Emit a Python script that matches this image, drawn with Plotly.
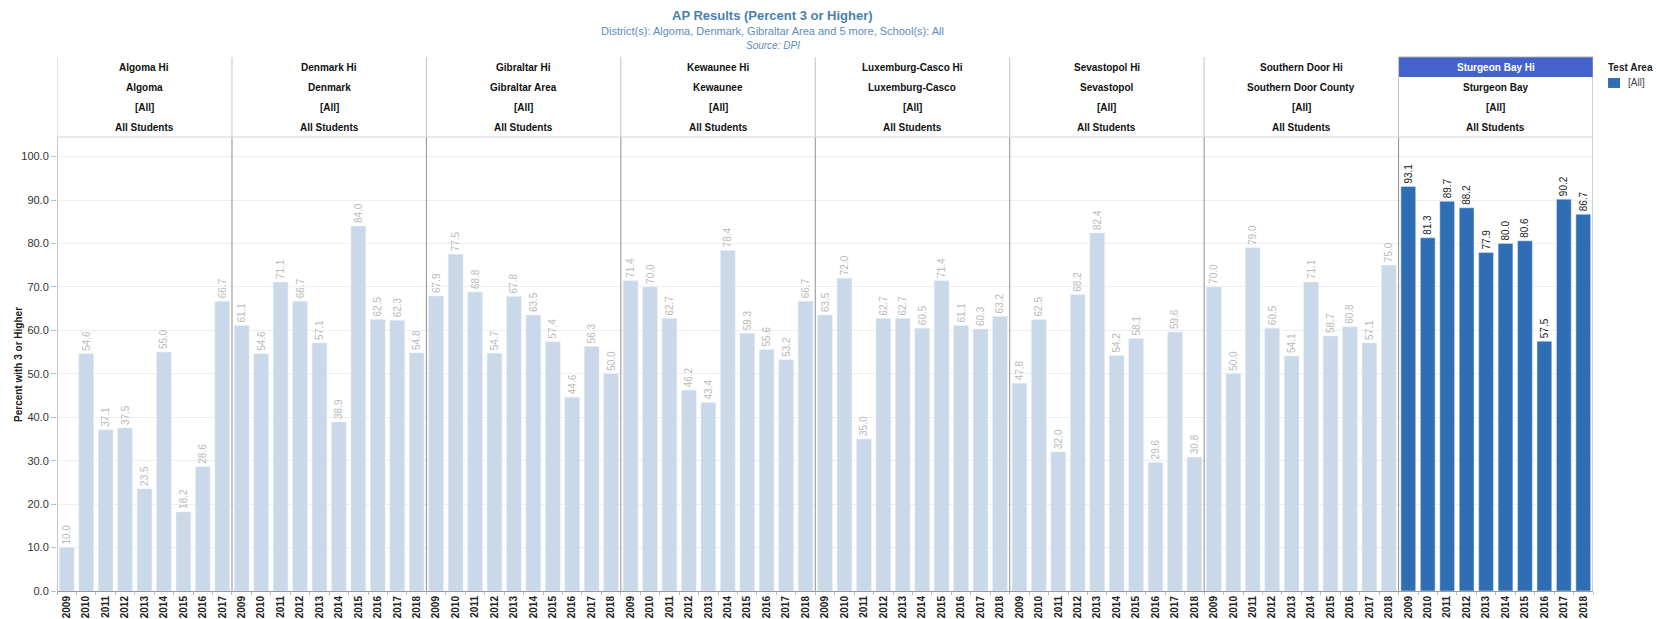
import plotly.graph_objects as go

schools = ["Algoma Hi", "Denmark Hi", "Gibraltar Hi", "Kewaunee Hi", "Luxemburg-Casco Hi",
           "Sevastopol Hi", "Southern Door Hi", "Sturgeon Bay Hi"]
districts = ["Algoma", "Denmark", "Gibraltar Area", "Kewaunee", "Luxemburg-Casco",
             "Sevastopol", "Southern Door County", "Sturgeon Bay"]
test_area = "[All]"
group = "All Students"

years_algoma = ["2009", "2010", "2011", "2012", "2013", "2014", "2015", "2016", "2017"]
years_full = ["2009", "2010", "2011", "2012", "2013", "2014", "2015", "2016", "2017", "2018"]

algoma = [10.0, 54.6, 37.1, 37.5, 23.5, 55.0, 18.2, 28.6, 66.7]
denmark = [61.1, 54.6, 71.1, 66.7, 57.1, 38.9, 84.0, 62.5, 62.3, 54.8]
gibraltar = [67.9, 77.5, 68.8, 54.7, 67.8, 63.5, 57.4, 44.6, 56.3, 50.0]
kewaunee = [71.4, 70.0, 62.7, 46.2, 43.4, 78.4, 59.3, 55.6, 53.2, 66.7]
luxemburg = [63.5, 72.0, 35.0, 62.7, 62.7, 60.5, 71.4, 61.1, 60.3, 63.2]
sevastopol = [47.8, 62.5, 32.0, 68.2, 82.4, 54.2, 58.1, 29.6, 59.6, 30.8]
southern_door = [70.0, 50.0, 79.0, 60.5, 54.1, 71.1, 58.7, 60.8, 57.1, 75.0]
sturgeon_bay = [93.1, 81.3, 89.7, 88.2, 77.9, 80.0, 80.6, 57.5, 90.2, 86.7]

values = [algoma, denmark, gibraltar, kewaunee, luxemburg, sevastopol, southern_door, sturgeon_bay]
years = [years_algoma] + [years_full] * 7
highlight = "Sturgeon Bay Hi"

LIGHT = "#c9d9e9"
DARK = "#2f6db4"
FONT = "Arial, Liberation Sans, sans-serif"

# positions
xs_light, ys_light, xs_dark, ys_dark = [], [], [], []
tickvals, ticktext = [], []
bounds = []
pos = 0
for s, vals, yrs in zip(schools, values, years):
    start = pos
    for v, yr in zip(vals, yrs):
        if s == highlight:
            xs_dark.append(pos); ys_dark.append(v)
        else:
            xs_light.append(pos); ys_light.append(v)
        tickvals.append(pos); ticktext.append("<b>%s</b>" % yr)
        pos += 1
    bounds.append((start - 0.5, pos - 0.5))
n = pos

fig = go.Figure()
fig.add_trace(go.Bar(x=xs_light, y=ys_light, marker_color=LIGHT, width=0.76,
                     texttemplate="%{y:.1f}", textposition="outside", textangle=-90,
                     textfont=dict(size=10, color="#b9b9b9", family=FONT),
                     constraintext="none", cliponaxis=False, showlegend=False))
fig.add_trace(go.Bar(x=xs_dark, y=ys_dark, marker_color=DARK, width=0.76,
                     texttemplate="%{y:.1f}", textposition="outside", textangle=-90,
                     textfont=dict(size=10, color="#222222", family=FONT),
                     constraintext="none", cliponaxis=False, showlegend=False))

H_TOP = 1.176
shapes = []
annotations = []
row_y = [1.152, 1.108, 1.066, 1.022]
for i, (s, d) in enumerate(zip(schools, districts)):
    x0, x1 = bounds[i]
    shapes.append(dict(type="line", xref="x", yref="paper", x0=x0, x1=x0, y0=0, y1=1,
                       line=dict(color="#8f8f8f", width=1)))
    shapes.append(dict(type="line", xref="x", yref="paper", x0=x0, x1=x0, y0=1, y1=H_TOP,
                       line=dict(color="#c4c4c4", width=1)))
    cx = (x0 + x1) / 2
    if s == highlight:
        shapes.append(dict(type="rect", xref="x", yref="paper", x0=x0, x1=x1, y0=1.132, y1=H_TOP,
                           fillcolor="#4462cc", line=dict(width=0), layer="below"))
    for j, t in enumerate([s, d, test_area, group]):
        col = "white" if (j == 0 and s == highlight) else "#111111"
        annotations.append(dict(text="<b>%s</b>" % t, xref="x", yref="paper", x=cx, y=row_y[j],
                                xanchor="center", yanchor="middle",
                                showarrow=False, font=dict(size=10, color=col, family=FONT)))
# right border
xr = bounds[-1][1]
shapes.append(dict(type="line", xref="x", yref="paper", x0=xr, x1=xr, y0=0, y1=H_TOP,
                   line=dict(color="#a0a0a0", width=1)))
shapes.append(dict(type="line", xref="x", yref="paper", x0=bounds[-1][0], x1=xr, y0=H_TOP, y1=H_TOP,
                   line=dict(color="#a0a0a0", width=1)))
# header bottom line
shapes.append(dict(type="line", xref="paper", yref="paper", x0=0, x1=1, y0=1, y1=1,
                   line=dict(color="#d4d4d4", width=1)))

# titles
annotations.append(dict(text="<b>AP Results (Percent 3 or Higher)</b>", xref="paper", yref="paper",
                        x=0.466, y=1.2687, xanchor="center", yanchor="middle", showarrow=False,
                        font=dict(size=13, color="#4a7fb0", family=FONT)))
annotations.append(dict(text="District(s): Algoma, Denmark, Gibraltar Area and 5 more, School(s): All",
                        xref="paper", yref="paper", x=0.466, y=1.2335, xanchor="center", yanchor="middle",
                        showarrow=False, font=dict(size=11, color="#5a8cbc", family=FONT)))
annotations.append(dict(text="<i>Source: DPI</i>", xref="paper", yref="paper", x=0.466, y=1.2026,
                        xanchor="center", yanchor="middle",
                        showarrow=False, font=dict(size=10, color="#5a8cbc", family=FONT)))

# legend
annotations.append(dict(text="<b>Test Area</b>", xref="paper", yref="paper", x=1.0085, y=1.154,
                        xanchor="left", yanchor="middle", showarrow=False,
                        font=dict(size=10, color="#222", family=FONT)))
shapes.append(dict(type="rect", xref="paper", yref="paper", x0=1.0098, x1=1.0176, y0=1.108, y1=1.130,
                   fillcolor=DARK, line=dict(width=0)))
annotations.append(dict(text=test_area, xref="paper", yref="paper", x=1.0215, y=1.119,
                        xanchor="left", yanchor="middle", showarrow=False,
                        font=dict(size=10, color="#444", family=FONT)))

# y axis title
annotations.append(dict(text="<b>Percent with 3 or Higher</b>", xref="paper", yref="paper",
                        x=-0.0254, y=0.5, xanchor="center", yanchor="middle", textangle=-90,
                        showarrow=False, font=dict(size=10, color="#222", family=FONT)))

fig.update_layout(
    width=1656, height=619,
    margin=dict(l=57, r=63, t=137, b=28, autoexpand=False),
    paper_bgcolor="white", plot_bgcolor="white",
    font=dict(family=FONT, color="#333"),
    bargap=0.24,
    shapes=shapes, annotations=annotations,
    showlegend=False,
)
fig.update_xaxes(range=[-0.5, n - 0.5], tickmode="array", tickvals=tickvals, ticktext=ticktext,
                 tickangle=-90, tickfont=dict(size=10, color="#222", family=FONT), automargin=False,
                 showgrid=False, zeroline=False, showline=True, linecolor="#9a9a9a", ticks="",
                 minor=dict(ticks="outside", tick0=0.5, dtick=1, ticklen=3, tickcolor="#bdbdbd", showgrid=False))
fig.update_yaxes(range=[0, 104.5], dtick=10, tickformat=".1f", showgrid=True, gridcolor="#efefef",
                 zeroline=False, ticks="outside", ticklen=5, tickcolor="#c0c0c0", automargin=False,
                 tickfont=dict(size=11, color="#333"))

fig.write_html("out.html", config={"displayModeBar": False},
               post_script="document.body.style.margin='0';document.body.style.overflow='hidden';")
